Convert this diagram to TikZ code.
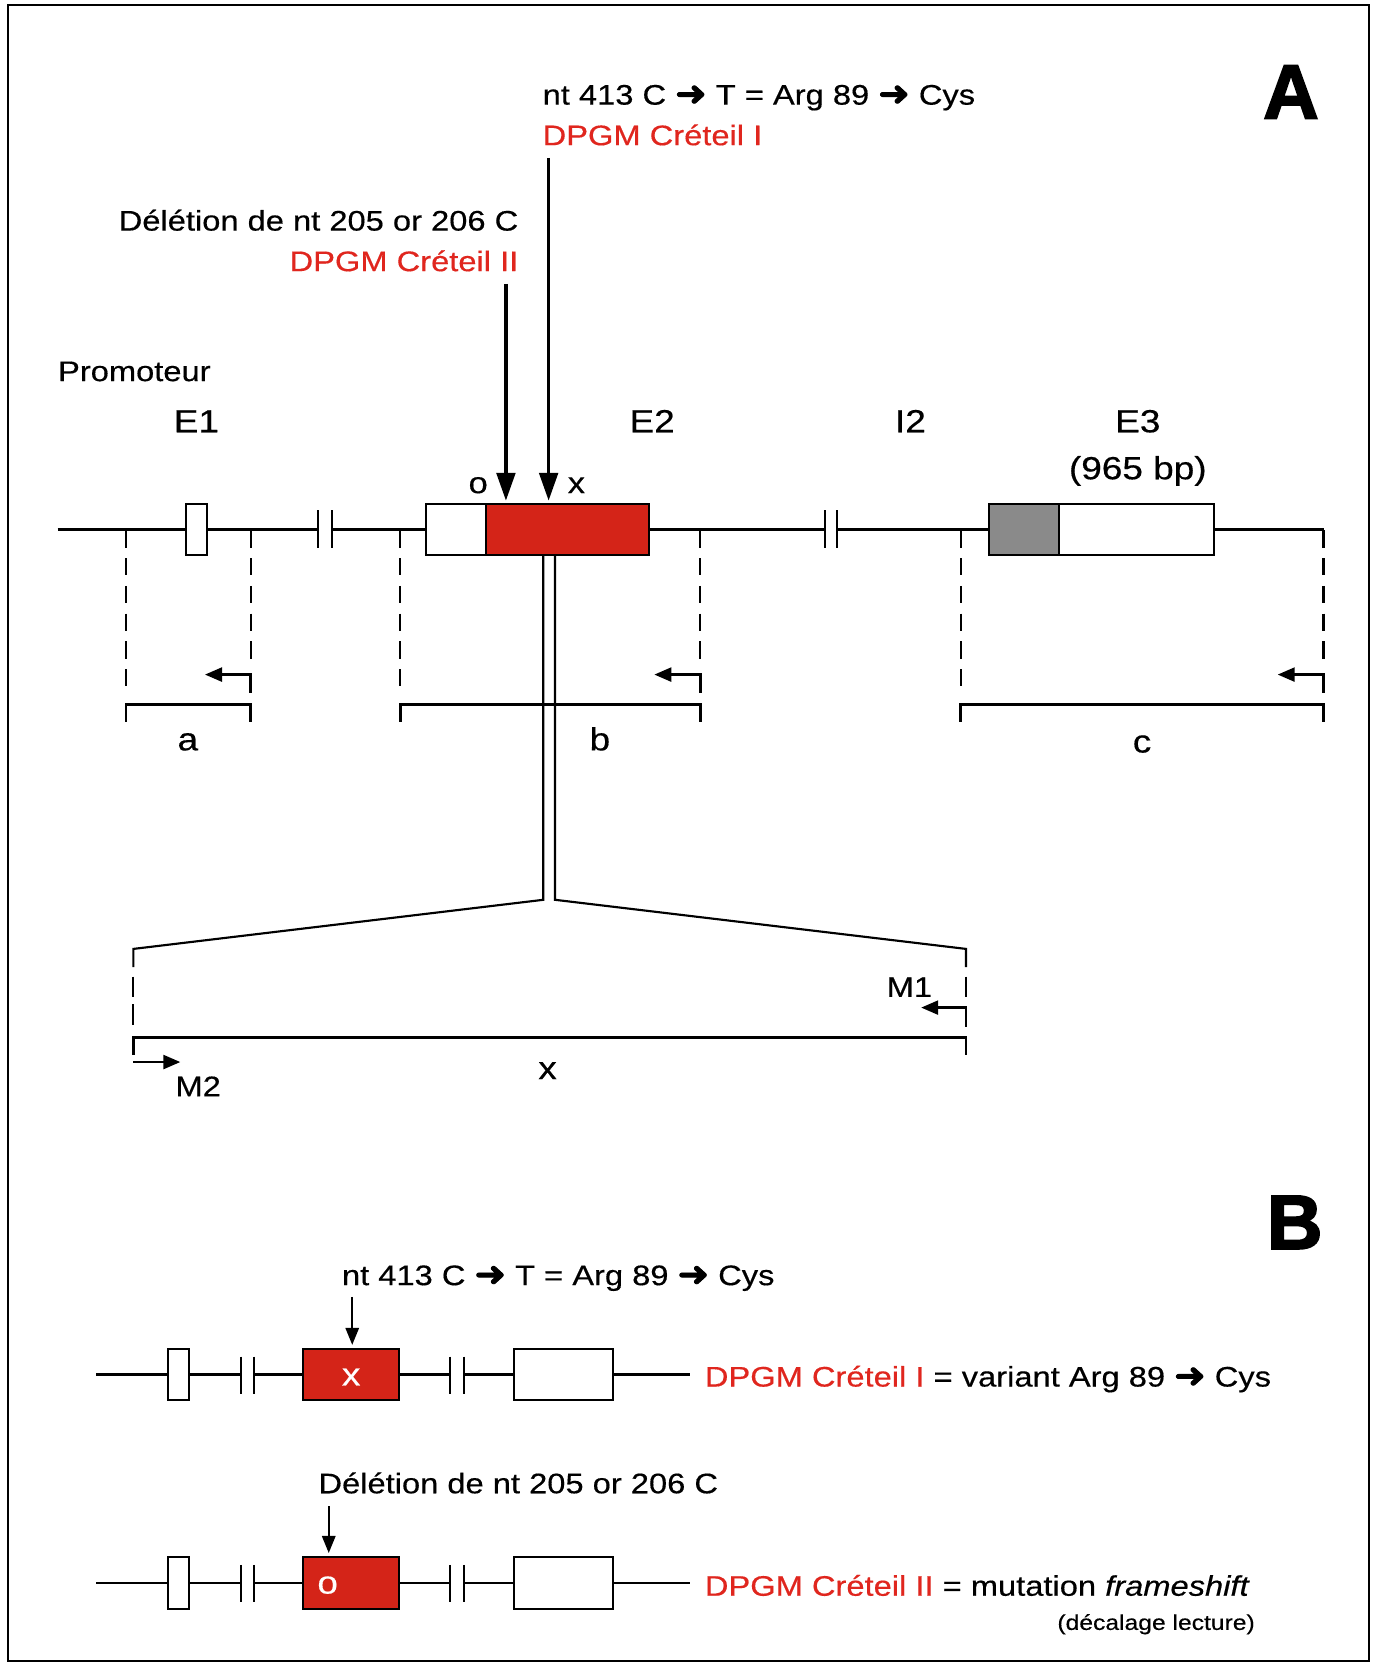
\documentclass[tikz,border=0pt]{standalone}
\usepackage{fontspec}
\setmainfont{Liberation Sans}[FakeStretch=1.155,FakeBold=0.4]
\newfontfamily\symfont{DejaVu Sans}[FakeStretch=1.1,FakeBold=2.5]
\newfontfamily\heavyfont{Liberation Sans}[BoldFeatures={FakeBold=2.5}]
\usetikzlibrary{arrows.meta}
\definecolor{dred}{RGB}{212,36,24}
\definecolor{tred}{RGB}{224,38,30}
\definecolor{egray}{RGB}{138,138,138}
\newcommand{\harr}{{\symfont\fontsize{16pt}{15pt}\selectfont\raisebox{-0.3pt}{\char"279C}}}
\begin{document}
\begin{tikzpicture}[x=0.5pt,y=-0.5pt,
  txt/.style={inner sep=0pt,font=\fontsize{13.25pt}{15pt}\selectfont},
  lab/.style={inner sep=0pt,font=\fontsize{15pt}{17pt}\selectfont},
  smalltxt/.style={inner sep=0pt,font=\fontsize{10pt}{12pt}\selectfont},
  panel/.style={inner sep=0pt,font=\heavyfont\bfseries\fontsize{36pt}{40pt}\selectfont},
  mainline/.style={line width=1.55pt},
  bline/.style={line width=1.25pt},
  barline/.style={line width=1pt},
  exon/.style={draw,line width=0.95pt,inner sep=0pt,minimum height=24pt},
  dsh/.style={line width=1pt,dash pattern=on 8pt off 5pt},
  dshb/.style={line width=1pt,dash pattern=on 9.5pt off 3.5pt},
  brk/.style={line width=1.3pt},
  fan/.style={line width=1pt},
  primer/.style={line width=1.3pt,-{Triangle[length=8pt,width=6.5pt]}},
  bigarr/.style={line width=1.5pt,-{Triangle[length=13pt,width=8.75pt]}},
  smallarr/.style={line width=1pt,-{Triangle[length=8pt,width=6.25pt]}},
]
\fill[white] (0,0) rectangle (1290,1564.6);
\useasboundingbox (0,0) rectangle (1290,1564.6);
\draw[line width=1.1pt] (7.8,4.7) rectangle (1282.5,1556);

% ---------- Panel A ----------
\node[panel,anchor=base] (pA) at (1209.5,111) {A};

\node[txt,anchor=base west] (mutI) at (508,98) {nt 413 C \harr{} T = Arg 89 \harr{} Cys};
\node[txt,anchor=base west,text=tred] (nameI) at (508,136) {DPGM Créteil I};
\node[txt,anchor=base east] (mutII) at (486,216) {Délétion de nt 205 or 206 C};
\node[txt,anchor=base east,text=tred] (nameII) at (486,254) {DPGM Créteil II};
\node[txt,anchor=base west] (prom) at (54,357) {Promoteur};

\node[lab,anchor=base] (lE1) at (184,405) {E1};
\node[lab,anchor=base] (lE2) at (611,405) {E2};
\node[lab,anchor=base] (lI2) at (853,405) {I2};
\node[lab,anchor=base] (lE3) at (1066,405) {E3};
\node[lab,anchor=base] (lbp) at (1066,449) {(965 bp)};
\node[lab,anchor=base,font=\fontsize{14pt}{16pt}\selectfont] (lo) at (448,462) {o};
\node[lab,anchor=base,font=\fontsize{14pt}{16pt}\selectfont] (lx) at (540,462) {x};

% exons
\node[exon,fill=white,minimum width=10pt] (E1) at (184,496) {};
\node[exon,fill=white,minimum width=28pt] (E2w) at (427,496) {};
\node[exon,fill=dred,minimum width=76.5pt] (E2r) at (531.5,496) {};
\node[exon,fill=egray,minimum width=32.5pt] (E3g) at (959.5,496) {};
\node[exon,fill=white,minimum width=72.5pt] (E3w) at (1064.5,496) {};

% main line
\coordinate (L0) at (54,496);
\coordinate (L1) at (1240,496);
\draw[mainline] (L0) -- (E1.west);
\draw[mainline] (E1.east) -- (298,496);
\draw[mainline] (311,496) -- (E2w.west);
\draw[mainline] (E2r.east) -- (773,496);
\draw[mainline] (784,496) -- (E3g.west);
\draw[mainline] (E3w.east) -- (L1);
\draw[barline] (298,478) -- (298,513);
\draw[barline] (311,478) -- (311,513);
\draw[barline] (773,478) -- (773,513);
\draw[barline] (784,478) -- (784,513);

% mutation arrows
\coordinate (aII) at (474,266);
\coordinate (aI) at (514,148);
\draw[bigarr] (aII) -- (474,469);
\draw[bigarr] (aI) -- (514,469);

% amplicons a, b, c
\foreach \xl/\xr in {118/235,375/656,900/1240}{
  \draw[dsh] (\xl,497) -- (\xl,649);
  \draw[dsh] (\xr,497) -- (\xr,622);
  \draw[primer] (\xr,649) -- (\xr,632) -- (\xr-43,632);
  \draw[brk] (\xl,676) -- (\xl,660) -- (\xr,660) -- (\xr,676);
}
\node[lab,anchor=base] (la) at (176,703) {a};
\node[lab,anchor=base] (lb) at (562,703) {b};
\node[lab,anchor=base] (lc) at (1070,705) {c};

% zoom on exon 2
\draw[fan] (509,520) -- (509,843) -- (125,889) -- (125,906);
\draw[fan] (520,520) -- (520,843) -- (905,889) -- (905,906);
\draw[dshb] (125,915) -- (125,962);
\draw[fan] (905,915) -- (905,934);
\draw[primer] (905,962) -- (905,944) -- (863,944);
\draw[brk] (125,988) -- (125,972) -- (905,972) -- (905,988);
\draw[primer] (125,995) -- (169,995);
\node[txt,anchor=base] (lM1) at (852,934) {M1};
\node[txt,anchor=base west] (lM2) at (164,1027) {M2};
\node[lab,anchor=base] (lxx) at (513,1011) {x};

% ---------- Panel B ----------
\node[panel,anchor=base] (pB) at (1213,1170) {B};

\foreach \yy/\r in {1288/1,1483/2}{
  \node[exon,fill=white,minimum width=10pt] (bE1\r) at (167.5,\yy) {};
  \node[exon,fill=dred,minimum width=45pt] (bE2\r) at (329,\yy) {};
  \node[exon,fill=white,minimum width=46pt] (bE3\r) at (528,\yy) {};
  \draw[bline] (90,\yy) -- (bE1\r.west);
  \draw[bline] (bE1\r.east) -- (226,\yy);
  \draw[bline] (238,\yy) -- (bE2\r.west);
  \draw[bline] (bE2\r.east) -- (422,\yy);
  \draw[bline] (435,\yy) -- (bE3\r.west);
  \draw[bline] (bE3\r.east) -- (646,\yy);
  \draw[barline] (226,\yy-17) -- (226,\yy+18);
  \draw[barline] (238,\yy-17) -- (238,\yy+18);
  \draw[barline] (422,\yy-17) -- (422,\yy+18);
  \draw[barline] (435,\yy-17) -- (435,\yy+18);
}
\node[lab,text=white,anchor=base] (bx) at (329,1298) {x};
\node[lab,text=white,anchor=base] (bo) at (307,1493) {o};

\node[txt,anchor=base west] (bmutI) at (320,1204) {nt 413 C \harr{} T = Arg 89 \harr{} Cys};
\coordinate (baI) at (330,1215);
\draw[smallarr] (baI) -- (330,1260);
\node[txt,anchor=base west] (bresI) at (660,1299) {\textcolor{tred}{DPGM Créteil I} = variant Arg 89 \harr{} Cys};

\node[txt,anchor=base west] (bmutII) at (298,1399) {Délétion de nt 205 or 206 C};
\coordinate (baII) at (308,1411);
\draw[smallarr] (baII) -- (308,1455);
\node[txt,anchor=base west] (bresII) at (660,1495) {\textcolor{tred}{DPGM Créteil II} = mutation \textit{frameshift}};
\node[smalltxt,anchor=base east] (bdec) at (1176,1527) {(décalage lecture)};
\end{tikzpicture}
\end{document}
